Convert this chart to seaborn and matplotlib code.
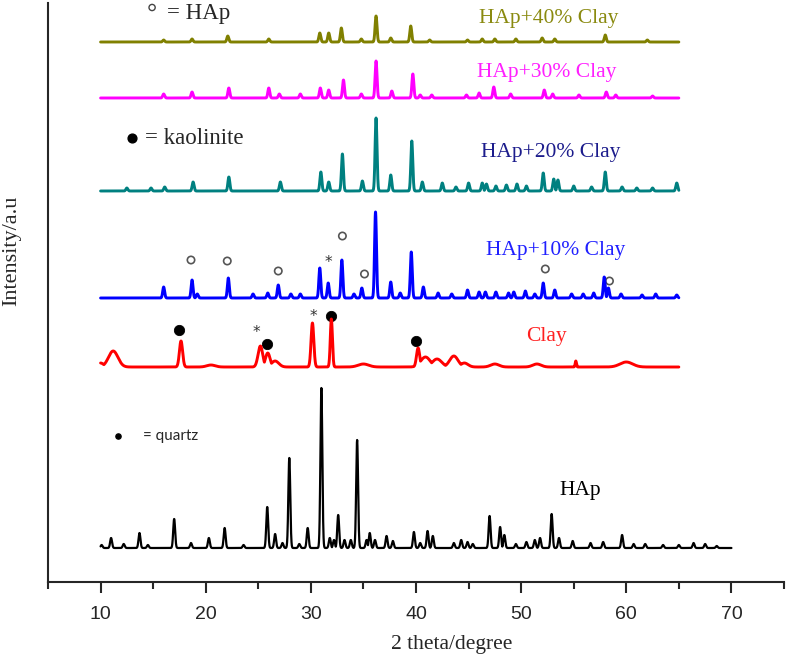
import numpy as np
import pandas as pd
import matplotlib
matplotlib.use("Agg")
import matplotlib.pyplot as plt
import seaborn as sns

# ---------------- data ----------------
series_names = ["HAp", "Clay", "HAp+10% Clay", "HAp+20% Clay", "HAp+30% Clay", "HAp+40% Clay"]
theta_ranges = {"HAp": (10, 70), "Clay": (10, 65), "HAp+10% Clay": (10, 65),
                "HAp+20% Clay": (10, 65), "HAp+30% Clay": (10, 65), "HAp+40% Clay": (10, 65)}

hap_pos = [10.1, 11.0, 12.2, 13.7, 14.5, 17.0, 18.6, 20.3, 21.8, 23.6, 25.85, 26.6, 27.3,
           27.95, 28.9, 29.7, 31.0, 31.8, 32.2, 32.6, 33.2, 33.8, 34.4, 35.3,
           35.6, 36.1, 37.2, 37.8, 39.8, 40.4, 41.1, 41.6, 43.6, 44.3, 44.9, 45.4, 47.0, 48.0,
           48.4, 49.5, 50.5, 51.3, 51.8, 52.9, 53.6, 54.9, 56.6, 57.8, 59.6, 60.7, 61.8, 63.5,
           65.0, 66.4, 67.5, 68.6]
hap_int = [3, 10, 4, 15, 3, 29, 5, 10, 20, 3, 41, 14, 5,
           90, 4, 20, 160, 10, 8, 33, 8, 8, 108, 8,
           15, 8, 12, 7, 16, 5, 17, 12, 5, 8, 6, 4, 32, 21,
           13, 4, 6, 8, 10, 34, 10, 7, 5, 6, 13, 4, 4, 3,
           3, 5, 4, 2]

clay_pos = [10.0, 11.2, 17.65, 20.5, 25.2, 25.9, 26.6, 30.15, 31.95, 35.0, 40.2, 40.9, 42.0, 43.6,
            44.6, 47.5, 51.5, 55.2, 60.0]
clay_int = [4, 16, 26, 2, 21, 14, 6, 44, 48, 3, 19, 10, 8, 11, 4, 3, 3, 6, 5]
clay_width = [0.3, 0.45, 0.15, 0.4, 0.22, 0.22, 0.35, 0.13, 0.1, 0.5, 0.15, 0.45, 0.45, 0.4,
              0.35, 0.4, 0.4, 0.06, 0.6]

hap10_pos = [16.0, 18.7, 19.2, 22.15, 24.5, 25.9, 26.9, 28.1, 29.0, 30.85, 31.65, 32.95, 34.1,
             34.85, 36.15, 37.6, 38.5, 39.55, 40.7, 42.1, 43.4, 44.9, 46.0, 46.6,
             47.6, 48.8, 49.3, 50.4, 51.3, 52.1, 53.2, 54.8, 55.9, 56.9, 57.9, 58.3, 59.5,
             61.5, 62.8, 64.8]
hap10_int = [11, 18, 4, 20, 4, 5, 13, 4, 4, 30, 15, 38, 4,
             10, 86, 16, 5, 46, 11, 5, 4, 8, 6, 6,
             6, 5, 6, 7, 4, 15, 8, 4, 4, 5, 21, 10, 4,
             3, 4, 3]

hap20_pos = [12.5, 14.8, 16.1, 18.8, 22.2, 27.1, 30.95, 31.7, 33.0, 34.9, 36.2, 37.6, 39.6,
             40.6, 42.5, 43.8, 45.0, 46.3, 46.7, 47.6, 48.6, 49.6, 50.5, 52.1, 53.1, 53.5,
             55.0, 56.7, 58.0, 59.6, 61.0, 62.5, 64.8]
hap20_int = [3, 3, 4, 9, 14, 9, 19, 9, 37, 10, 73, 16, 50,
             9, 8, 4, 8, 8, 7, 5, 6, 7, 5, 18, 12, 11,
             5, 4, 19, 4, 3, 3, 8]

hap30_pos = [16.0, 18.7, 22.2, 26.0, 27.0, 29.0, 30.9, 31.7, 33.1, 34.8, 36.2, 37.7, 39.7,
             40.4, 41.5, 44.8, 46.0, 47.4, 49.0, 52.2, 53.0, 55.5, 58.1, 59.0, 62.5]
hap30_int = [4, 6, 10, 10, 4, 4, 10, 8, 18, 4, 37, 7, 24,
             3, 3, 3, 5, 11, 4, 8, 4, 3, 6, 3, 2]

hap40_pos = [16.0, 18.7, 22.1, 26.0, 30.85, 31.7, 32.9, 34.8, 36.2, 37.6, 39.5, 41.3, 44.9,
             46.3, 47.5, 49.5, 52.0, 53.2, 58.0, 62.0]
hap40_int = [2, 3, 6, 3, 9, 9, 14, 3, 26, 4, 16, 2, 2,
             3, 3, 3, 4, 3, 7, 2]

# phase markers: (2theta, height on the stacked plot)
kaolinite_x = [17.5, 25.85, 31.9, 40.0]
kaolinite_y = [252, 238, 266, 241]
hap_mark_x = [18.6, 22.05, 26.9, 33.0, 35.1, 52.3, 58.4]
hap_mark_y = [322, 321, 311, 346, 308, 313, 301]
star_x = [24.8, 30.2, 31.7]
star_y = [249, 265, 320]

# ---------------- layout / style ----------------
offsets = {"HAp": 34, "Clay": 215, "HAp+10% Clay": 284, "HAp+20% Clay": 391,
           "HAp+30% Clay": 484, "HAp+40% Clay": 540}
colors = {"HAp": "#000000", "Clay": "#ff0000", "HAp+10% Clay": "#0000ff",
          "HAp+20% Clay": "#008080", "HAp+30% Clay": "#ff00ff", "HAp+40% Clay": "#808000"}
label_colors = {"HAp": "#000000", "Clay": "#ff2020", "HAp+10% Clay": "#2020ff",
                "HAp+20% Clay": "#1c1c8c", "HAp+30% Clay": "#ff20ff", "HAp+40% Clay": "#8a8a10"}
label_xy = {"HAp": (55.6, 92), "Clay": (52.45, 245), "HAp+10% Clay": (53.3, 332),
            "HAp+20% Clay": (52.85, 430), "HAp+30% Clay": (52.4, 509), "HAp+40% Clay": (52.65, 564)}
peak_sigma = {"HAp": 0.09, "HAp+10% Clay": 0.09, "HAp+20% Clay": 0.09,
              "HAp+30% Clay": 0.09, "HAp+40% Clay": 0.09}

peaks = {"HAp": (hap_pos, hap_int, None), "Clay": (clay_pos, clay_int, clay_width),
         "HAp+10% Clay": (hap10_pos, hap10_int, None), "HAp+20% Clay": (hap20_pos, hap20_int, None),
         "HAp+30% Clay": (hap30_pos, hap30_int, None), "HAp+40% Clay": (hap40_pos, hap40_int, None)}


def profile(name):
    lo, hi = theta_ranges[name]
    x = np.arange(lo, hi + 1e-9, 0.01)
    pos, inten, widths = peaks[name]
    if widths is None:
        widths = [peak_sigma[name]] * len(pos)
    y = np.zeros_like(x)
    for p, h, w in zip(pos, inten, widths):
        y = np.maximum(y, h * np.exp(-0.5 * ((x - p) / w) ** 2))
    return pd.DataFrame({"two_theta": x, "intensity": y + offsets[name], "sample": name})


sns.set_style("ticks")
plt.rcParams["font.family"] = ["Liberation Serif", "DejaVu Serif"]

fig = plt.figure(figsize=(7.86, 6.59), dpi=100)
ax = fig.add_axes([48 / 786, 77 / 659, 736 / 786, 579 / 659])

for name in series_names:
    df = profile(name)
    sns.lineplot(data=df, x="two_theta", y="intensity", color=colors[name],
                 linewidth=1.6 if name == "HAp" else 2.1, ax=ax,
                 estimator=None, sort=False, errorbar=None, legend=False)
    lx, ly = label_xy[name]
    ax.text(lx, ly, name, color=label_colors[name], fontsize=15.5, ha="center", va="center")

sns.scatterplot(x=kaolinite_x, y=kaolinite_y, color="black", s=55, edgecolor="black", ax=ax, legend=False)
sns.scatterplot(x=hap_mark_x, y=hap_mark_y, facecolor="none", edgecolor="#555555", s=28,
                linewidth=1.2, ax=ax, legend=False)
for sx, sy in zip(star_x, star_y):
    ax.text(sx, sy, "*", fontsize=11, ha="center", va="center", color="#333333",
            family=["DejaVu Sans"])

# key texts
ax.scatter([14.9], [574.5], s=20, facecolor="none", edgecolor="#444444", linewidth=1.0, clip_on=False)
ax.text(16.3, 568, "= HAp", fontsize=16.5, ha="left", va="center")
ax.scatter([13.0], [444.5], s=40, color="black")
ax.text(14.2, 443, "= kaolinite", fontsize=16.5, ha="left", va="center")
ax.scatter([11.65], [146.5], s=14, color="black")
ax.text(14.05, 146, "= quartz", fontsize=11, ha="left", va="center", family=["Lato", "DejaVu Sans"])

ax.set_xlim(5, 75)
ax.set_ylim(0, 579)
ax.set_xticks(range(10, 71, 10))
ax.set_xticks(range(5, 76, 10), minor=True)
ax.set_xticklabels([str(v) for v in range(10, 71, 10)], family=["Liberation Sans", "DejaVu Sans"], fontsize=14)
ax.tick_params(axis="x", which="major", length=8, width=1.5, pad=9, direction="out")
ax.tick_params(axis="x", which="minor", length=5, width=1.5, direction="out")
ax.set_yticks([])
for s in ["top", "right"]:
    ax.spines[s].set_visible(False)
for s in ["left", "bottom"]:
    ax.spines[s].set_linewidth(1.5)
ax.set_xlabel("")
ax.set_ylabel("")
fig.text(452 / 786, 1 - 645 / 659, "2 theta/degree", fontsize=15.5, ha="center", va="center")
fig.text(12 / 786, 1 - 251 / 659, "Intensity/a.u", fontsize=16, ha="center", va="center", rotation=90)

fig.savefig("out.png", dpi=100)
